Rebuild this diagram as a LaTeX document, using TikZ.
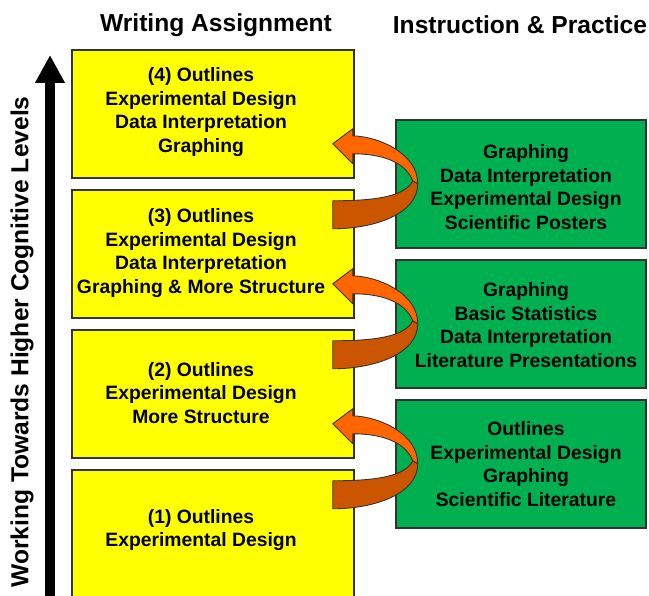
\documentclass[tikz,border=0pt]{standalone}
\usepackage{fontspec}
\setmainfont{Liberation Sans}
\usepackage{xcolor}
\usetikzlibrary{arrows.meta,positioning}
\definecolor{boxyellow}{RGB}{255,255,0}
\definecolor{boxgreen}{RGB}{0,176,80}
\definecolor{ribbonfront}{RGB}{255,102,0}
\definecolor{ribbonback}{RGB}{204,85,0}
\definecolor{boxline}{RGB}{51,51,51}
\tikzset{%
	writing/.style  = {draw=boxline, line width=0.9pt, fill=boxyellow, minimum width=5.64cm, minimum height=2.56cm},
	practice/.style = {draw=boxline, line width=0.9pt, fill=boxgreen, minimum width=5cm, minimum height=2.56cm},
	boxtext/.style  = {align=center, inner sep=0pt, font=\fontsize{11}{13.5}\selectfont\bfseries},
	header/.style   = {font=\fontsize{14}{16}\selectfont\bfseries},
	ribbon/.style   = {draw=black!80, line width=0.5pt, line join=round},
	levelarrow/.style = {line width=0.2cm, -{Triangle[length=0.56cm, width=0.56cm]}},
}
\begin{document}
\begin{tikzpicture}[x=0.02cm, y=-0.02cm]
	\clip (0,0) rectangle (649,595);
	\node[header] (whead) at (216,25) {Writing Assignment};  % column titles
	\node[header] (ihead) at (520,25) {Instruction \& Practice};
	\coordinate (lvlbot) at (50,605);
	\coordinate (lvltop) at (50,55);
	\draw[levelarrow] (lvlbot) -- (lvltop);  % levels arrow
	\node[header, rotate=90] (levels) at (22,342) {Working Towards Higher Cognitive Levels};
	% writing assignments
	\node[writing] (w1) at (213,534) {};
	\node[writing] (w2) at (213,394) {};
	\node[writing] (w3) at (213,254) {};
	\node[writing] (w4) at (213,114) {};
	\node[boxtext] (w1t) at (201,530) {(1) Outlines\\Experimental Design};
	\node[boxtext] (w2t) at (201,393) {(2) Outlines\\Experimental Design\\More Structure};
	\node[boxtext] (w3t) at (201,253) {(3) Outlines\\Experimental Design\\Data Interpretation\\Graphing \& More Structure};
	\node[boxtext] (w4t) at (201,112) {(4) Outlines\\Experimental Design\\Data Interpretation\\Graphing};
	% instruction and practice
	\node[practice] (p1) at (521,464) {};
	\node[practice] (p2) at (521,324) {};
	\node[practice] (p3) at (521,184) {};
	\node[boxtext] (p1t) at (526,464) {Outlines\\Experimental Design\\Graphing\\Scientific Literature};
	\node[boxtext] (p2t) at (526,325) {Graphing\\Basic Statistics\\Data Interpretation\\Literature Presentations};
	\node[boxtext] (p3t) at (526,187) {Graphing\\Data Interpretation\\Experimental Design\\Scientific Posters};
	\foreach \up in {w2,w3,w4}{
	\begin{scope}[shift={(\up.south east)}]
		\filldraw[ribbon, fill=ribbonback] (-22,22) -- (-22,50) .. controls (20,50) and (63,35) .. (63,5) -- (58,2) .. controls (50,18) and (20,22) .. (-22,22) -- cycle;  % back of the twist
		\filldraw[ribbon, fill=ribbonfront] (-2,-43) .. controls (25,-42) and (63,-25) .. (63,5) -- (58,2) .. controls (50,-18) and (25,-25) .. (-2,-25) -- (-2,-15) -- (-22,-35) -- (-2,-50) -- cycle;  % front with head
	\end{scope}}
\end{tikzpicture}
\end{document}
